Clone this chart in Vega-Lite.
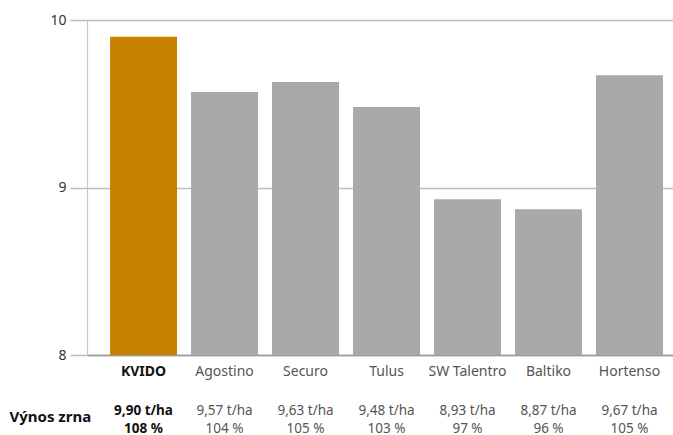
{
  "$schema": "https://vega.github.io/schema/vega-lite/v6.json",
  "width": 586,
  "height": 335,
  "autosize": "none",
  "padding": {"left": 87, "top": 20, "right": 0, "bottom": 80},
  "background": "white",
  "config": {
    "view": {"stroke": null},
    "font": "Noto Sans"
  },
  "data": {
    "values": [
      {"variety": "KVIDO", "yield": 9.90, "pct": 108, "lines": ["9,90 t/ha", "108 %"], "group": "highlight"},
      {"variety": "Agostino", "yield": 9.57, "pct": 104, "lines": ["9,57 t/ha", "104 %"], "group": "other"},
      {"variety": "Securo", "yield": 9.63, "pct": 105, "lines": ["9,63 t/ha", "105 %"], "group": "other"},
      {"variety": "Tulus", "yield": 9.48, "pct": 103, "lines": ["9,48 t/ha", "103 %"], "group": "other"},
      {"variety": "SW Talentro", "yield": 8.93, "pct": 97, "lines": ["8,93 t/ha", "97 %"], "group": "other"},
      {"variety": "Baltiko", "yield": 8.87, "pct": 96, "lines": ["8,87 t/ha", "96 %"], "group": "other"},
      {"variety": "Hortenso", "yield": 9.67, "pct": 105, "lines": ["9,67 t/ha", "105 %"], "group": "other"}
    ]
  },
  "encoding": {
    "x": {
      "field": "variety",
      "type": "nominal",
      "sort": null,
      "scale": {"paddingInner": 0.173, "paddingOuter": 0.204, "align": 0.697},
      "axis": {
        "title": "Výnos zrna",
        "titleFont": "Noto Sans",
        "titleFontSize": 15,
        "titleFontWeight": "bold",
        "titleColor": "#111",
        "titleAnchor": "start",
        "titleAlign": "left",
        "titleBaseline": "middle",
        "titleX": -78,
        "titleY": 61,
        "labelAngle": 0,
        "labelFont": "Noto Sans",
        "labelFontSize": 14,
        "labelPadding": 9,
        "labelColor": {"condition": {"test": "datum.value == 'KVIDO'", "value": "#111"}, "value": "#555"},
        "labelFontWeight": {"condition": {"test": "datum.value == 'KVIDO'", "value": "bold"}, "value": "normal"},
        "ticks": false,
        "domain": true,
        "domainColor": "#999",
        "domainWidth": 1.5
      }
    }
  },
  "layer": [
    {
      "mark": {"type": "bar", "clip": true},
      "encoding": {
        "y": {
          "field": "yield",
          "type": "quantitative",
          "scale": {"domain": [8, 10], "nice": false, "zero": false},
          "axis": {
            "title": null,
            "values": [8, 9, 10],
            "labelExpr": "format(datum.value, 'd')",
            "grid": true,
            "gridColor": "#bdbdbd",
            "gridWidth": 1.5,
            "domain": true,
            "domainColor": "#c8c8c8",
            "domainWidth": 1.2,
            "ticks": true,
            "tickSize": 17,
            "tickColor": "#bdbdbd",
            "tickWidth": 1.5,
            "labelPadding": 4,
            "labelFont": "Noto Sans",
            "labelFontSize": 14,
            "labelColor": "#333"
          }
        },
        "color": {
          "field": "group",
          "type": "nominal",
          "scale": {"domain": ["highlight", "other"], "range": ["#C98200", "#A9A9A8"]},
          "legend": null
        }
      }
    },
    {
      "transform": [{"filter": "datum.group == 'highlight'"}],
      "mark": {"type": "text", "baseline": "top", "align": "center", "dy": 49, "fontSize": 13.5, "fontWeight": "bold", "lineHeight": 17.5, "color": "#111", "clip": false},
      "encoding": {
        "y": {"datum": 8, "type": "quantitative"},
        "text": {"field": "lines"}
      }
    },
    {
      "transform": [{"filter": "datum.group == 'other'"}],
      "mark": {"type": "text", "baseline": "top", "align": "center", "dy": 49, "fontSize": 13.5, "lineHeight": 17.5, "color": "#555", "clip": false},
      "encoding": {
        "y": {"datum": 8, "type": "quantitative"},
        "text": {"field": "lines"}
      }
    }
  ]
}
